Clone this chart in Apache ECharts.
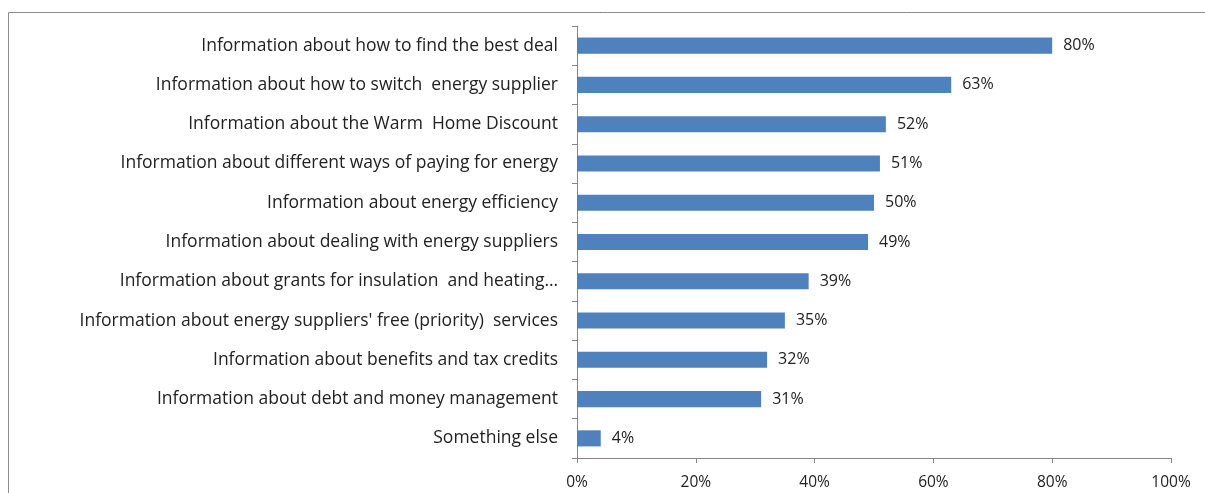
<!DOCTYPE html>
<html>
<head>
<meta charset="utf-8">
<script src="https://cdn.jsdelivr.net/npm/echarts@6/dist/echarts.min.js"></script>
<style>
  html, body { margin: 0; padding: 0; background: #ffffff; }
  #chart { width: 1205px; height: 493px; }
</style>
</head>
<body>
<div id="chart"></div>
<script>
// Categories listed bottom-to-top (category axis starts at the bottom)
const categories = [
  "Something else",
  "Information about debt and money management",
  "Information about benefits and tax credits",
  "Information about energy suppliers' free (priority)  services",
  "Information about grants for insulation  and heating\u2026",
  "Information about dealing with energy suppliers",
  "Information about energy efficiency",
  "Information about different ways of paying for energy",
  "Information about the Warm  Home Discount",
  "Information about how to switch  energy supplier",
  "Information about how to find the best deal"
];
const shares = [4, 31, 32, 35, 39, 49, 50, 51, 52, 63, 80];
const xTicks = [0, 20, 40, 60, 80, 100];

const FONT = "'Open Sans', Lato, sans-serif";
const chart = echarts.init(document.getElementById('chart'), null, { renderer: 'canvas' });

chart.setOption({
  animation: false,
  backgroundColor: '#ffffff',
  graphic: [{
    // outer chart-area frame (its right and bottom edges run past the page)
    type: 'rect',
    shape: { x: 8.5, y: 12.5, width: 1300, height: 600 },
    style: { fill: 'none', stroke: '#8c8c8c', lineWidth: 1 },
    silent: true,
    z: -1
  }],
  grid: { left: 577, right: 34, top: 26, bottom: 35, containLabel: false },
  xAxis: {
    type: 'value',
    min: xTicks[0],
    max: xTicks[xTicks.length - 1],
    interval: 20,
    splitLine: { show: false },
    axisLine: { show: true, lineStyle: { color: '#868686', width: 1 } },
    axisTick: { show: true, length: 5, lineStyle: { color: '#868686' } },
    axisLabel: {
      formatter: v => v + '%',
      color: '#222', fontFamily: FONT, fontSize: 15.5, margin: 17
    }
  },
  yAxis: {
    type: 'category',
    data: categories,
    axisLine: { show: true, lineStyle: { color: '#868686', width: 1 } },
    axisTick: { show: true, length: 5, alignWithLabel: false, lineStyle: { color: '#868686' } },
    axisLabel: { color: '#222', fontFamily: FONT, fontSize: 17.5, margin: 19 }
  },
  series: [{
    type: 'bar',
    data: shares,
    barWidth: '41%',
    itemStyle: { color: '#4f81bd' },
    label: {
      show: true,
      position: 'right',
      distance: 11,
      formatter: p => p.value + '%',
      color: '#222', fontFamily: FONT, fontSize: 16
    }
  }]
});
</script>
</body>
</html>
